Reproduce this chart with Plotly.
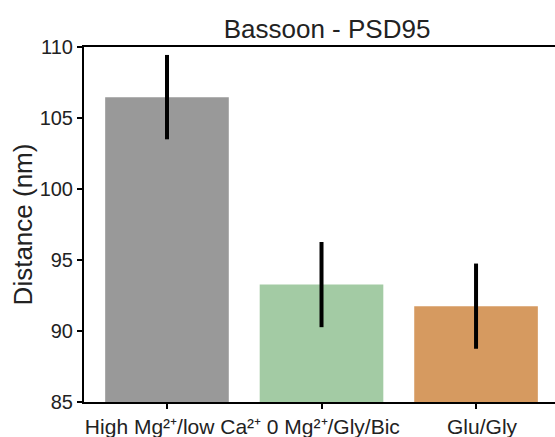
import plotly.graph_objects as go

categories = ["High Mg²⁺/low Ca²⁺", "\u00a0\u00a00 Mg²⁺/Gly/Bic", "Glu/Gly"]
means = [106.47, 93.27, 91.75]
errors = [2.97, 3.0, 3.0]
colors = ["#999999", "#a3cba4", "#d69a60"]

fig = go.Figure()
fig.add_trace(go.Bar(
    x=[0, 1, 2], y=means, width=0.8,
    marker=dict(color=colors, line=dict(width=0)),
    error_y=dict(type="data", array=errors, visible=True, color="black", thickness=4, width=0),
))

fig.update_layout(
    width=555, height=437,
    margin=dict(l=84, r=0, t=47, b=35, autoexpand=False),
    paper_bgcolor="white", plot_bgcolor="white",
    font=dict(family="Liberation Sans, Arial, sans-serif", color="#222222"),
    showlegend=False,
    title=dict(text="Bassoon - PSD95", x=0.516, xref="paper", xanchor="center",
               y=1, yref="paper", yanchor="bottom", pad=dict(b=9),
               font=dict(size=26, color="#222222")),
    bargap=0.2,
)
fig.update_xaxes(
    range=[-0.537, 2.511], tickmode="array", tickvals=[0, 1, 2], ticktext=categories,
    tickangle=0, automargin=False, ticklabelshift=6,
    showline=True, linecolor="black", linewidth=2, mirror=True,
    ticks="outside", ticklen=5, tickwidth=2, tickcolor="black",
    tickfont=dict(size=21, color="#222222"), showgrid=False, zeroline=False,
)
fig.update_yaxes(
    range=[85, 110], tickvals=[85, 90, 95, 100, 105, 110], automargin=False,
    showline=True, linecolor="black", linewidth=2,
    ticks="outside", ticklen=5, tickwidth=2, tickcolor="black",
    tickfont=dict(size=20, color="#222222"), showgrid=False, zeroline=False,
    title=dict(text="Distance (nm)", font=dict(size=26, color="#222222"), standoff=0),
)

fig.write_html("out.html")
